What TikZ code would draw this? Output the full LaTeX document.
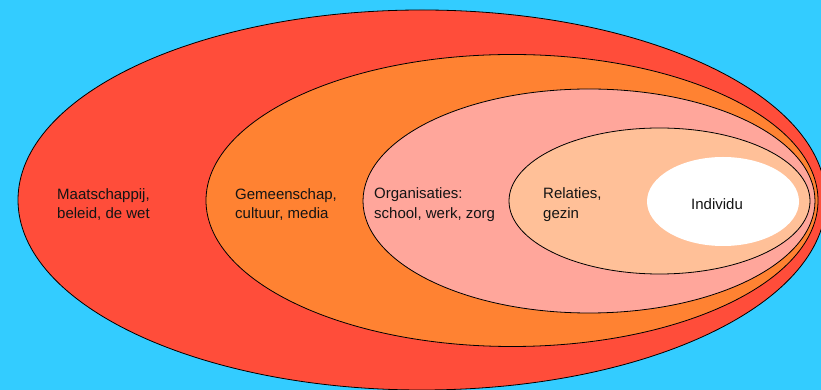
\documentclass[tikz,border=0pt]{standalone}
\usepackage{fontspec}
\setmainfont{Liberation Sans}
\definecolor{bg}{RGB}{51,204,255}
\definecolor{cred}{RGB}{255,77,58}
\definecolor{corange}{RGB}{255,130,50}
\definecolor{cpink}{RGB}{255,166,155}
\definecolor{cpeach}{RGB}{255,192,152}
\definecolor{txt}{RGB}{20,20,20}
\begin{document}
\begin{tikzpicture}[x=1pt,y=1pt,
  ring/.style={draw=black,line width=0.8pt},
  labfont/.style={text=txt,font=\fontsize{15}{19.5}\selectfont,inner sep=0pt},
  lab/.style={labfont,anchor=west,align=left}]
\fill[bg] (0,0) rectangle (821,390);
\useasboundingbox (0,0) rectangle (821,390);
\begin{scope}
\clip (0,0) rectangle (821,390);
\draw[ring,fill=cred] (422,190) ellipse [x radius=404,y radius=190];
\draw[ring,fill=corange] (512,189.5) ellipse [x radius=306,y radius=146];
\draw[ring,fill=cpink] (589,189) ellipse [x radius=226,y radius=112];
\draw[ring,fill=cpeach] (659.5,189) ellipse [x radius=150.5,y radius=73];
\fill[white] (723,188.5) ellipse [x radius=76,y radius=44.5];
\end{scope}
\node[lab] (maat) at (57,185.5) {Maatschappij,\\beleid, de wet};
\node[lab] (gem) at (235,185.5) {Gemeenschap,\\cultuur, media};
\node[lab] (org) at (374,185.5) {Organisaties:\\school, werk, zorg};
\node[lab] (rel) at (543,185.5) {Relaties,\\gezin};
\node[labfont] (ind) at (717,186) {Individu};
\end{tikzpicture}
\end{document}
